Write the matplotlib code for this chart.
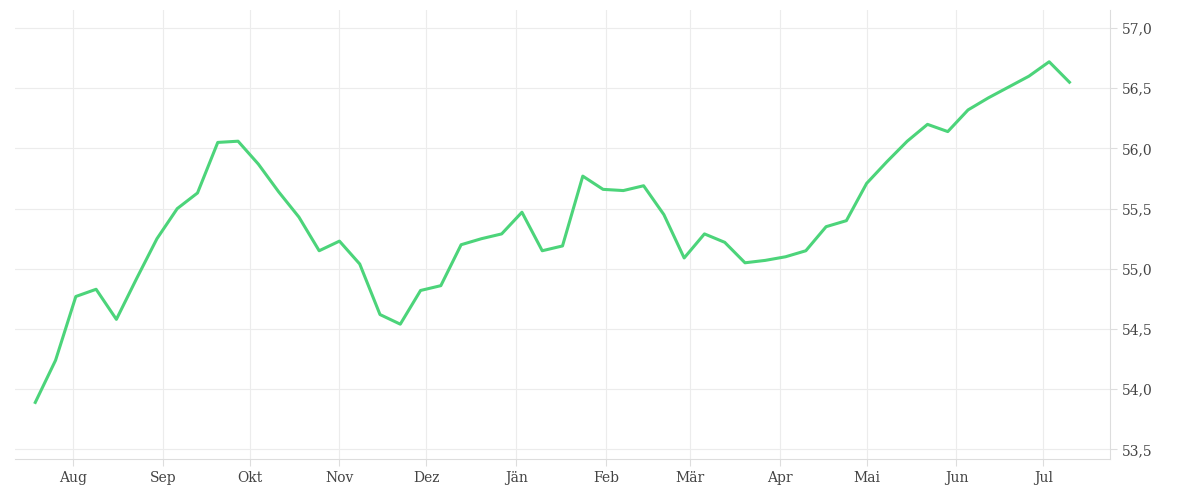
import matplotlib
matplotlib.use("Agg")
import matplotlib.pyplot as plt
import matplotlib.dates as mdates
import pandas as pd

start = "2023-07-19"
values = [53.89,54.24,54.77,54.83,54.58,54.92,55.25,55.50,55.63,56.05,56.06,55.87,55.64,
          55.43,55.15,55.23,55.04,54.62,54.54,54.82,54.86,55.20,55.25,55.29,55.47,55.15,
          55.19,55.77,55.66,55.65,55.69,55.45,55.09,55.29,55.22,55.05,55.07,55.10,55.15,
          55.35,55.40,55.71,55.89,56.06,56.20,56.14,56.32,56.42,56.51,56.60,56.72,56.55]
dates = pd.date_range(start, periods=len(values), freq="7D")
month_labels = ["Aug","Sep","Okt","Nov","Dez","Jän","Feb","Mär","Apr","Mai","Jun","Jul"]
month_ticks = pd.date_range("2023-08-01", periods=12, freq="MS")
ytick_vals = [53.5,54.0,54.5,55.0,55.5,56.0,56.5,57.0]

fig = plt.figure(figsize=(12,5), dpi=100)
ax = fig.add_axes([15/1200, 41/500, 1095/1200, 449/500])
ax.plot(dates, values, color="#4cd47a", lw=2.2)
ax.set_xlim(pd.Timestamp("2023-07-12"), pd.Timestamp("2024-07-24"))
ax.set_ylim(53.42, 57.15)
ax.set_xticks(month_ticks)
ax.set_xticklabels(month_labels)
ax.set_yticks(ytick_vals)
ax.set_yticklabels([f"{v:.1f}".replace(".", ",") for v in ytick_vals])
ax.yaxis.tick_right()
ax.grid(True, color="#ececec", lw=0.8)
for s in ["top","left"]:
    ax.spines[s].set_visible(False)
ax.spines["right"].set_color("#dddddd")
ax.spines["bottom"].set_color("#dddddd")
ax.tick_params(length=5, color="#dddddd", labelsize=10, labelcolor="#444444")
for lbl in ax.get_xticklabels() + ax.get_yticklabels():
    lbl.set_family("DejaVu Serif")
fig.savefig("out.png")
